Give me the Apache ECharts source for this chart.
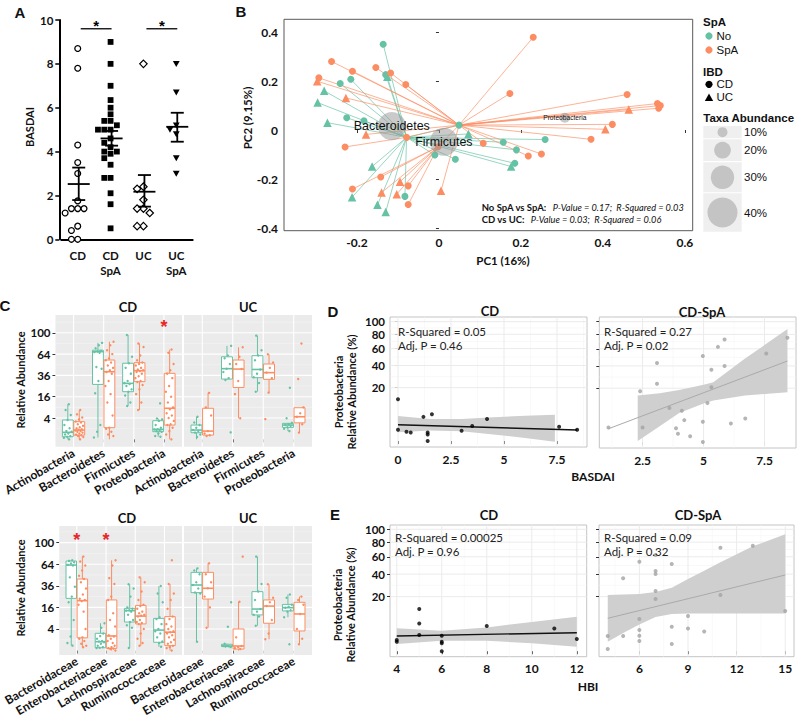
<!DOCTYPE html>
<html><head><meta charset="utf-8">
<script src="https://cdn.jsdelivr.net/npm/echarts@6/dist/echarts.min.js"></script>
<style>html,body{margin:0;padding:0;background:#fff}#c{width:800px;height:722px}</style>
</head><body><div id="c"></div>
<script>
// ================= DATA =================
// ---- Panel A: BASDAI by group ----
const aCats = ['CD', 'CD\nSpA', 'UC', 'UC\nSpA'];
const aCD = [8.7, 7.8, 4.3, 3.5, 3.0, 1.75, 1.4, 1.4, 1.4, 1.2, 0.6, 0.4, 0, 0];
const aCDSpA = [9.0, 8.0, 7.0, 6.35, 6.0, 5.7, 5.4, 5.4, 5.2, 5.0, 5.0, 5.0, 4.6, 4.4, 4.2, 4.0, 4.0, 3.9, 3.7, 3.4, 2.8, 2.8, 2.1, 1.6, 0.5];
const aUC = [8.0, 2.4, 2.3, 1.8, 1.4, 1.4, 1.2, 0.6, 0.6];
const aUCSpA = [8.0, 6.7, 5.2, 5.0, 4.8, 3.7, 3.0];
const aMean = [2.52, 4.6, 2.17, 5.13];
const aSeLow = [1.79, 4.27, 1.49, 4.45];
const aSeHigh = [3.27, 4.94, 2.93, 5.77];
const aSigPairs = [[0, 1], [2, 3]];
const aSigY = 9.6;

// ---- Panel B: PCA biplot [PC1, PC2, hub index] ----
const bHubs = [[0.049, 0.020], [-0.079, -0.030], [-0.002, -0.068]];
const bNoCD = [[-0.136,0.350,1],[-0.215,0.207,1],[-0.241,0.190,1],[-0.130,0.226,1],[-0.225,0.050,1],[-0.183,0.038,1],[0.049,0.020,1],[0.157,-0.050,1],[0.259,-0.039,1],[0.189,-0.081,1],[-0.010,-0.102,1],[0.040,-0.119,1],[0.185,-0.136,1],[-0.083,-0.271,1]];
const bNoUC = [[-0.126,0.217,1],[-0.280,0.160,1],[-0.296,0.112,1],[-0.272,0.030,1],[0.072,-0.016,1],[-0.163,-0.149,1],[0.176,-0.149,1],[-0.212,-0.274,1],[-0.150,-0.305,1],[-0.130,-0.335,1]];
const bSpACD = [[0.230,0.379,0],[-0.262,0.280,0],[-0.211,0.240,0],[-0.154,0.255,0],[-0.118,0.233,0],[-0.081,0.186,0],[-0.293,0.213,0],[0.173,0.149,0],[0.459,0.145,0],[0.533,0.108,0],[0.540,0.100,0],[0.536,0.089,0],[0.423,0.023,0],[0.371,-0.038,0],[0.250,-0.098,0],[0.218,-0.106,0],[0.108,-0.054,0],[-0.079,-0.030,0],[-0.229,-0.069,1],[-0.002,-0.068,0],[-0.142,-0.192,2],[-0.211,-0.241,2],[-0.075,-0.228,2],[-0.075,-0.304,2]];
const bSpAUC = [[-0.297,0.199,0],[-0.227,0.131,0],[-0.178,-0.018,0],[-0.095,-0.211,2],[-0.140,-0.255,2],[-0.103,-0.262,2],[0.005,-0.248,0],[0.463,0.084,0],[0.406,0.003,0]];
const bTaxa = ['Bacteroidetes', 'Firmicutes', 'Proteobacteria'];
const bTaxaPos = [[-0.115, 0.016], [0.012, -0.048], [0.307, 0.050]];
const bTaxaAbund = [37, 37, 10];
const bLegendAbund = [10, 20, 30, 40];
const bTicksX = [-0.2, 0, 0.2, 0.4, 0.6];
const bTicksY = [-0.4, -0.2, 0, 0.2, 0.4];

// ---- Panel C: relative abundance (%) ----
const cTopCats = ['Actinobacteria', 'Bacteroidetes', 'Firmicutes', 'Proteobacteria'];
const cBotCats = ['Bacteroidaceae', 'Enterobacteriaceae', 'Lachnospiraceae', 'Ruminococcaceae'];
const cTicks = [4, 16, 36, 64, 100];
// box stats: [lower whisker, Q1, median, Q3, upper whisker]
const cTopBoxCDNo = [[0,0.06,0.43,3.3,10.8],[0.03,26.6,67.7,70,82],[9.8,20,27.6,51,96],[0.06,0.52,0.88,3.06,3.8]];
const cTopBoxCDSpA = [[0,0.16,0.76,2.75,7.6],[0,1.2,40.3,55.4,84],[7.6,29.3,41.5,51.8,81],[0,1.8,8.5,38.4,71]];
const cTopBoxUCNo = [[0,0.39,0.76,1.8,4.5],[31,32,44,60,77],[20,33.5,43,61.6,94.7],[0.6,1.26,1.8,2.25,2.4]];
const cTopBoxUCSpA = [[0.1,0.16,0.6,8.5,19],[3.9,23.7,43.5,55.4,74.6],[19.2,31.7,39.2,50,63.7],[0.39,2.4,4.5,8.8,8.8]];
const cBotBoxCDNo = [[0.21,23.4,62.7,68.8,70],[0.06,0.07,0.68,2.56,6.4],[0.06,7,13.7,15.3,37.7],[0.12,0.59,3.6,8.9,35.8]];
const cBotBoxCDSpA = [[0.09,1.4,21.4,43.9,75.7],[0,0.04,1.83,22,70],[0.2,6.1,10.2,17.5,46],[0,0.21,2.9,9.9,38]];
const cBotBoxUCNo = [[0.68,28.8,36.9,52.5,58],[0.1,0.15,0.18,0.34,0.4],[5.3,10.9,14.8,29.8,75.7],[9.5,13.5,15.8,18.3,27]];
const cBotBoxUCSpA = [[4.5,22.8,33.3,52.5,65.3],[0,0.02,0.18,4,20.5],[1.1,6.4,17,22,37.7],[0.34,3.3,11.5,20,25]];
// individual samples
const cTopPtsCDNo = [
  [10.8,7.6,5.2,3.3,1.8,1.1,0.6,0.5,0.3,0.2,0.1,0.06,0.02,0],
  [82,78,73,69,68,67,66,46,44,30,18.7,1.8,0.5,0.03],
  [96,60,51,45,38,30,28,27,25,22,20,17,12,9.8],
  [11.4,3.8,3.5,3.0,1.8,1.2,0.9,0.85,0.7,0.6,0.5,0.3,0.1,0.06]];
const cTopPtsCDSpA = [
  [7.6,5.5,4.2,3.5,2.8,2.5,2,1.6,1.3,1.1,0.9,0.8,0.7,0.6,0.5,0.4,0.3,0.2,0.15,0.1,0.05,0],
  [84,78,70,64,58,55,52,48,45,42,40,38,30,25,18,12,5,1.2,1.0,0.5,0.2,0.1],
  [81,75,62,55,52,50,48,45,43,42,41,40,38,35,33,30,29,26,22,18,12,7.6],
  [71,66,50,42,38,33,25,20,16,12,9,8,6,5,4,3,2,1.8,1.2,0.6,0.2,0]];
const cTopPtsUCNo = [
  [4.5,2.5,1.8,1.2,0.76,0.6,0.4,0.2,0.05],
  [77,62,58,50,44,40,33,31,0.43],
  [94.7,70,62,55,43,38,34,28,20],
  [23.5,3.9,2.4,2.0,1.8,1.6,1.3,1.0,0.6]];
const cTopPtsUCSpA = [
  [19,9,5,0.6,0.3,0.15,0.1],
  [74.6,60,50,43.5,30,18,3.9],
  [63.7,52,45,39.2,33,19.2,3.6],
  [81,32,9,6,4.5,2,0.4]];
const cBotPtsCDNo = [
  [70,69,67,65,63,62,46,35,25,20,8,1.7,0.5,0.21],
  [6.4,4.5,3,2.5,1.8,1.2,0.8,0.7,0.6,0.4,0.2,0.1,0.07,0.06],
  [37.7,33,25,16,15,14,13.7,13,11,8,7,5.5,4.5,0.06],
  [35.8,28,20,9.5,8.5,6,4,3.2,2.5,1.5,0.7,0.5,0.3,0.12]];
const cBotPtsCDSpA = [
  [75.7,68,62,55,48,44,40,33,27,23,22,21,18,13,9,4,1.5,1.2,0.8,0.4,0.2,0.09],
  [70,62,45,38,25,22,12,8,5,3,2,1.7,1.2,0.8,0.5,0.3,0.2,0.1,0.05,0.04,0.02,0],
  [46,40,30,22,18,17,15,13,12,11,10.5,10,9,8,7,6.5,6,4,2.5,1.2,0.5,0.2],
  [70,38,28,22,15,10,8.5,6,5,4,3.2,2.9,2.5,2,1.5,1,0.6,0.4,0.2,0.1,0.05,0]];
const cBotPtsUCNo = [
  [58,55,50,40,36.9,33,29,28,0.68],
  [20,4.9,0.4,0.3,0.2,0.18,0.16,0.14,0.1],
  [75.7,38,30,22,14.8,13,11,10,5.3],
  [27,24,18,16.5,15.8,14,13,9.5,0.34]];
const cBotPtsUCSpA = [
  [65.3,50,40,33.3,25,16,4.5],
  [75.7,20.5,1.5,0.18,0.1,0.05,0.02],
  [37.7,24,20,17,8,2.5,1.1],
  [25,22,18,11.5,4,1.2,0.34]];
const cTopSig = [[4, 120]];
const cBotSig = [[1, 113], [2, 113]];

// ---- Panels D & E: Proteobacteria vs BASDAI / HBI ----
const deTicksY = [20, 40, 60, 80, 100];
const dTicksCD = [0, 2.5, 5, 7.5];
const dTicksSpA = [2.5, 5, 7.5];
const eTicksCD = [4, 6, 8, 10, 12];
const eTicksSpA = [6, 9, 12, 15];
const dCD = [[0,12.2],[0,0.9],[0.4,0.6],[0.6,0.5],[1.2,4.1],[1.4,0.5],[1.4,0.3],[1.4,0],[1.6,5.0],[3.0,0.75],[3.5,1.6],[4.2,3.4],[7.6,1.44],[8.45,0.9]];
const dSpA = [[1.1,1.44],[2.4,17.8],[2.5,1.44],[3.09,43],[3.09,23.4],[3.6,8.0],[3.87,1.3],[3.95,0.48],[4.11,6.75],[4.21,3.3],[4.45,0.23],[4.97,51],[4.97,2.8],[4.97,0],[5.16,10.5],[5.32,36],[5.32,20.7],[5.59,62.5],[5.86,72.6],[5.86,39.8],[6.12,2.35],[6.71,3.8],[7.57,54],[8.44,75]];
const eCD = [[4,0.85],[4,0.6],[5,12],[5,5.2],[5,1.77],[6,1.6],[6,0.6],[6,0.42],[6,0],[8,4.3],[11,3.5],[12,1.0]];
const eSpA = [[4.05,1.56],[4.05,0.03],[5,35.8],[5,1.56],[6,53.9],[6,7.0],[6,3.0],[6,1.6],[6,0.7],[7,62.3],[7,43.3],[7,40],[7,24.4],[7,18.3],[8,51.2],[8,4.0],[8,0.35],[9,8.3],[9,3.5],[10,2.6],[11,72],[11,21.3],[13,74.9],[15,10.9]];
// linear fits on the square-root scale: [x, fitted] and confidence band [x, lower, upper]
const dLineCD = [[0,1.37],[8.45,0.92]];
const dBandCD = [[0,0.73,2.1],[1.5,0.88,1.85],[3,0.82,1.85],[4.5,0.55,2.0],[6,0.25,2.12],[7.4,-0.06,2.2]];
const dLineSpA = [[1.1,1.1],[8.44,6.73]];
const dBandSpA = [[2.3,0.08,3.86],[3.2,1.3,4.05],[4.0,2.4,4.33],[5.0,3.2,4.75],[5.4,3.44,4.97],[6.7,3.86,6.93],[8.44,4.13,9.39]];
const eLineCD = [[4,1.25],[12,1.52]];
const eBandCD = [[4,0.59,1.88],[6,0.85,1.68],[8,0.85,1.95],[10,0.65,2.4],[12,0.37,2.83]];
const eLineSpA = [[4.05,2.7],[15,6.25]];
const eBandSpA = [[4.05,0.78,4.61],[5,1.5,4.65],[6,2.2,4.7],[7,2.8,4.85],[8,3.05,5.2],[9,3.1,5.92],[10,3.1,6.6],[11,3.1,7.3],[12,3.1,7.95],[13,3.1,8.6],[15,3.1,9.59]];

// ================= STYLE / HELPERS =================
const GREEN = '#66c2a5', ORANGE = '#fc8d62';
const FONT = 'Lato, "Open Sans", sans-serif';
const HELV = '"Liberation Sans", Arial, sans-serif';
const sq = Math.sqrt;
const bold = (size, extra) => Object.assign({fontFamily: FONT, fontWeight: 'bold', fontSize: size, color: '#111'}, extra || {});
const bubbleD = p => 3.3 + 0.67 * p;      // bubble diameter for taxa abundance
const taxaFont = p => 4.5 + 0.215 * p;

function T(x, y, text, o) {
  o = o || {};
  return {type: 'text', x: x, y: y, rotation: o.rot || 0, silent: true, z: 100,
    style: {text: text, fill: o.color || '#111', fontSize: o.size || 12,
      fontWeight: o.bold ? 'bold' : 'normal', fontStyle: o.italic ? 'italic' : 'normal',
      fontFamily: o.family || FONT, textAlign: o.align || 'center', align: o.align || 'center',
      textVerticalAlign: 'middle', verticalAlign: 'middle', lineHeight: o.lh, rich: o.rich}};
}

// ---- A: beeswarm layout (pixel space) ----
function swarm(values, cat, api, d) {
  const pts = values.map(v => api.coord([cat, v]));
  const order = values.map((v, i) => i).sort((a, b) => values[b] - values[a]);
  const placed = [], res = [];
  for (const i of order) {
    const x0 = pts[i][0], y = pts[i][1];
    const cands = [0];
    for (let m = 1; m < 8; m++) cands.push(-m * d, m * d);
    let x = x0;
    for (const off of cands) {
      x = x0 + off;
      if (placed.every(p => Math.hypot(p[0] - x, p[1] - y) >= d * 0.97)) break;
    }
    placed.push([x, y]); res[i] = [x, y];
  }
  return res;
}
function mark(shape, x, y) {
  if (shape === 'circle') return {type: 'circle', shape: {cx: x, cy: y, r: 2.9}, style: {fill: '#fff', stroke: '#000', lineWidth: 1.3}};
  if (shape === 'square') return {type: 'rect', shape: {x: x - 2.9, y: y - 2.9, width: 5.8, height: 5.8}, style: {fill: '#000'}};
  if (shape === 'diamond') return {type: 'polygon', shape: {points: [[x, y - 3.7], [x + 3.7, y], [x, y + 3.7], [x - 3.7, y]]}, style: {fill: '#fff', stroke: '#000', lineWidth: 1.2}};
  return {type: 'polygon', shape: {points: [[x - 3.4, y - 2.8], [x + 3.4, y - 2.8], [x, y + 3.2]]}, style: {fill: '#000'}};
}
function swarmSeries(values, cat, shape) {
  return {type: 'custom', xAxisIndex: 0, yAxisIndex: 0, z: 3,
    data: values.map(v => [cat, v]),
    renderItem: function (params, api) {
      const p = swarm(values, cat, api, 6.3)[params.dataIndex];
      return mark(shape, p[0], p[1]);
    }};
}

// ---- C: box + jitter ----
function jit(i, k) { return (((i + 1) * 0.6180339887 + k * 0.37) % 1) * 2 - 1; }
function boxSeries(g, boxes, pts, color, dodge) {
  return {type: 'custom', xAxisIndex: g, yAxisIndex: g, z: 3,
    data: boxes.map((b, i) => [i + 1, b[2], b[0], b[1], b[3], b[4]]),
    renderItem: function (params, api) {
      const b = boxes[params.dataIndex];
      const c = params.dataIndex + 1 + dodge, hw = 0.18;
      const P = (x, v) => api.coord([x, sq(v)]);
      const lo = P(c, b[0]), q1 = P(c, b[1]), q3 = P(c, b[3]), hi = P(c, b[4]);
      const l = P(c - hw, b[2]), r = P(c + hw, b[2]);
      const ch = [
        {type: 'line', shape: {x1: lo[0], y1: lo[1], x2: q1[0], y2: q1[1]}, style: {stroke: color, lineWidth: 1}},
        {type: 'line', shape: {x1: q3[0], y1: q3[1], x2: hi[0], y2: hi[1]}, style: {stroke: color, lineWidth: 1}},
        {type: 'rect', shape: {x: l[0], y: q3[1], width: r[0] - l[0], height: q1[1] - q3[1]}, style: {fill: '#fff', stroke: color, lineWidth: 1}},
        {type: 'line', shape: {x1: l[0], y1: l[1], x2: r[0], y2: r[1]}, style: {stroke: color, lineWidth: 1.6}}
      ];
      pts[params.dataIndex].forEach((v, j) => {
        const p = P(c + 0.14 * jit(j, params.dataIndex), v);
        ch.push({type: 'circle', shape: {cx: p[0], cy: p[1], r: 1.2}, style: {fill: color}});
      });
      return {type: 'group', children: ch};
    }};
}
function sigSeries(g, sig) {
  return {type: 'custom', xAxisIndex: g, yAxisIndex: g, z: 5,
    data: sig.map(s => [s[0], sq(s[1])]),
    renderItem: function (params, api) {
      const p = api.coord([api.value(0), api.value(1)]);
      return {type: 'text', x: p[0], y: p[1] + 4, style: {text: '*', fill: '#e8262a', fontSize: 18, fontWeight: 'bold', fontFamily: HELV, textAlign: 'center', align: 'center', textVerticalAlign: 'middle', verticalAlign: 'middle'}};
    }};
}
// background grid lines
function bgSeries(g, vx, vy, mx, my, major, minor, wMaj, wMin) {
  return {type: 'custom', xAxisIndex: g, yAxisIndex: g, z: 1, silent: true,
    data: [[vx[0], vy[0]]],
    renderItem: function (params, api) {
      const cs = params.coordSys, ch = [];
      const hl = (v, col, w) => { const y = api.coord([vx[0], v])[1]; ch.push({type: 'line', shape: {x1: cs.x, y1: y, x2: cs.x + cs.width, y2: y}, style: {stroke: col, lineWidth: w}}); };
      const vl = (v, col, w) => { const x = api.coord([v, vy[0]])[0]; ch.push({type: 'line', shape: {x1: x, y1: cs.y, x2: x, y2: cs.y + cs.height}, style: {stroke: col, lineWidth: w}}); };
      my.forEach(v => hl(v, minor, wMin)); mx.forEach(v => vl(v, minor, wMin));
      vy.forEach(v => hl(v, major, wMaj)); vx.forEach(v => vl(v, major, wMaj));
      return {type: 'group', children: ch};
    }};
}
function bandSeries(g, band) {
  return {type: 'custom', xAxisIndex: g, yAxisIndex: g, z: 2, silent: true,
    data: band.map(b => [b[0], b[1], b[2]]),
    renderItem: function (params, api) {
      if (params.dataIndex !== 0) return null;
      const up = band.map(b => api.coord([b[0], b[2]]));
      const dn = band.slice().reverse().map(b => api.coord([b[0], b[1]]));
      return {type: 'polygon', shape: {points: up.concat(dn)}, style: {fill: '#cfcfcf'}};
    }};
}
function fitLine(g, line, color, w) {
  return {type: 'line', xAxisIndex: g, yAxisIndex: g, z: 3, data: line, showSymbol: false, silent: true,
    lineStyle: {color: color, width: w}};
}
function pts(g, data, color) {
  return {type: 'scatter', xAxisIndex: g, yAxisIndex: g, z: 4, symbolSize: 4, silent: true,
    data: data.map(d => [d[0], sq(d[1])]), itemStyle: {color: color}};
}
// B spider lines
function spider(data, color) {
  return {type: 'custom', xAxisIndex: 1, yAxisIndex: 1, z: 2, silent: true,
    data: data.map(d => [d[0], d[1], d[2]]),
    renderItem: function (params, api) {
      const p = api.coord([api.value(0), api.value(1)]);
      const h = api.coord(bHubs[api.value(2)]);
      return {type: 'line', shape: {x1: p[0], y1: p[1], x2: h[0], y2: h[1]}, style: {stroke: color, lineWidth: 0.9, opacity: 0.75}};
    }};
}
function bScatter(data, color, symbol, size) {
  return {type: 'scatter', xAxisIndex: 1, yAxisIndex: 1, z: 3, silent: true, symbol: symbol, symbolSize: size,
    data: data.map(d => [d[0], d[1]]), itemStyle: {color: color, opacity: 1}};
}

// ---- axes ----
function cX(g, cats) {
  return {type: 'value', gridIndex: g, min: 0.4, max: 4.6, axisLine: {show: false}, splitLine: {show: false},
    axisTick: {show: true, customValues: [1, 2, 3, 4], length: 3, lineStyle: {color: '#333'}},
    axisLabel: Object.assign({customValues: [1, 2, 3, 4], formatter: v => cats[Math.round(v) - 1], rotate: 30, margin: 5}, bold(12))};
}
function cY(g, min, max, show) {
  return {type: 'value', gridIndex: g, min: min, max: max, axisLine: {show: false}, splitLine: {show: false},
    axisTick: {show: show, customValues: cTicks.map(sq), length: 3, lineStyle: {color: '#333'}},
    axisLabel: Object.assign({show: show, customValues: cTicks.map(sq), formatter: v => String(Math.round(v * v)), margin: 5}, bold(11.5))};
}
function deX(g, min, max, ticks) {
  return {type: 'value', gridIndex: g, min: min, max: max, axisLine: {show: false}, splitLine: {show: false},
    axisTick: {show: true, customValues: ticks, length: 3, lineStyle: {color: '#333'}},
    axisLabel: Object.assign({customValues: ticks, formatter: v => String(v), margin: 6}, bold(12))};
}
function deY(g, min, max, show) {
  return {type: 'value', gridIndex: g, min: min, max: max, axisLine: {show: false}, splitLine: {show: false},
    axisTick: {show: true, customValues: deTicksY.map(sq), length: 3, lineStyle: {color: '#333'}},
    axisLabel: Object.assign({show: show, customValues: deTicksY.map(sq), formatter: v => String(Math.round(v * v)), margin: 5, lineHeight: 11}, bold(11.5))};
}
const mid = a => a.slice(1).map((v, i) => (v + a[i]) / 2);

const cGrid = {show: true, backgroundColor: '#ebebeb', borderWidth: 0};
const dGrid = {show: true, backgroundColor: '#fff', borderColor: '#c4c4c4', borderWidth: 1};
const grids = [
  {left: 61.3, top: 20, width: 131.4, height: 219.3},
  {left: 284, top: 19.3, width: 408.7, height: 211.4, show: true, backgroundColor: '#fff', borderColor: '#595959', borderWidth: 1},
  Object.assign({left: 54, top: 315, width: 128, height: 131.7}, cGrid),
  Object.assign({left: 184, top: 315, width: 128, height: 131.7}, cGrid),
  Object.assign({left: 54, top: 526, width: 128, height: 129}, cGrid),
  Object.assign({left: 184, top: 526, width: 128, height: 129}, cGrid),
  Object.assign({left: 390, top: 317, width: 197, height: 130}, dGrid),
  Object.assign({left: 599.3, top: 317, width: 196.7, height: 131}, dGrid),
  Object.assign({left: 390, top: 525, width: 196.7, height: 131.7}, dGrid),
  Object.assign({left: 599, top: 525, width: 195, height: 131.7}, dGrid)
];

const xAxes = [
  {type: 'category', gridIndex: 0, data: aCats, boundaryGap: true,
    axisLine: {lineStyle: {color: '#000', width: 2}},
    axisTick: {alignWithLabel: true, length: 4, lineStyle: {color: '#000', width: 1.5}},
    axisLabel: Object.assign({margin: 9, lineHeight: 15}, bold(11.5))},
  {type: 'value', gridIndex: 1, min: -0.378, max: 0.619, axisLine: {show: false}, splitLine: {show: false},
    axisTick: {show: true, customValues: bTicksX, length: 3, lineStyle: {color: '#333'}},
    axisLabel: Object.assign({customValues: bTicksX, formatter: v => (Math.abs(v) < 1e-9 ? '0' : v.toFixed(1)), margin: 6}, bold(12))},
  cX(2, cTopCats), cX(3, cTopCats), cX(4, cBotCats), cX(5, cBotCats),
  deX(6, -0.377, 8.915, dTicksCD), deX(7, 0.725, 8.79, dTicksSpA),
  deX(8, 3.70, 12.44, eTicksCD), deX(9, 3.51, 15.54, eTicksSpA)
];
const yAxes = [
  {type: 'value', gridIndex: 0, min: 0, max: 10, interval: 2, offset: 2,
    axisLine: {show: true, lineStyle: {color: '#000', width: 2}},
    axisTick: {show: true, length: 4, lineStyle: {color: '#000', width: 1.5}}, splitLine: {show: false},
    axisLabel: Object.assign({margin: 6}, bold(11.5))},
  {type: 'value', gridIndex: 1, min: -0.411, max: 0.452, axisLine: {show: false}, splitLine: {show: false},
    axisTick: {show: true, customValues: bTicksY, length: 3, lineStyle: {color: '#333'}},
    axisLabel: Object.assign({customValues: bTicksY, formatter: v => (Math.abs(v) < 1e-9 ? '0' : v.toFixed(1)), margin: 6}, bold(12))},
  cY(2, -0.69, 11.67, true), cY(3, -0.69, 11.67, false), cY(4, -0.41, 11.54, true), cY(5, -0.41, 11.54, false),
  deY(6, -0.5, 10.39, true), deY(7, -0.5, 10.39, false), deY(8, -0.45, 10.35, true), deY(9, -0.45, 10.35, false)
];

// ================= SERIES =================
const series = [];
// A
series.push(swarmSeries(aCD, 0, 'circle'), swarmSeries(aCDSpA, 1, 'square'), swarmSeries(aUC, 2, 'diamond'), swarmSeries(aUCSpA, 3, 'tri'));
series.push({type: 'custom', xAxisIndex: 0, yAxisIndex: 0, z: 4,
  data: aMean.map((m, i) => [i, m, aSeLow[i], aSeHigh[i]]),
  renderItem: function (params, api) {
    const i = params.dataIndex;
    const m = api.coord([i, aMean[i]]), lo = api.coord([i, aSeLow[i]]), hi = api.coord([i, aSeHigh[i]]);
    const x = m[0] + 1, st = {stroke: '#000', lineWidth: 1.8};
    return {type: 'group', children: [
      {type: 'line', shape: {x1: x - 11, y1: m[1], x2: x + 11, y2: m[1]}, style: st},
      {type: 'line', shape: {x1: x, y1: lo[1], x2: x, y2: hi[1]}, style: st},
      {type: 'line', shape: {x1: x - 6.5, y1: lo[1], x2: x + 6.5, y2: lo[1]}, style: st},
      {type: 'line', shape: {x1: x - 6.5, y1: hi[1], x2: x + 6.5, y2: hi[1]}, style: st}]};
  }});
series.push({type: 'custom', xAxisIndex: 0, yAxisIndex: 0, z: 4,
  data: aSigPairs.map(p => [p[0], aSigY]),
  renderItem: function (params, api) {
    const pr = aSigPairs[params.dataIndex];
    const a = api.coord([pr[0], aSigY]), b = api.coord([pr[1], aSigY]);
    return {type: 'group', children: [
      {type: 'line', shape: {x1: a[0] + 3, y1: a[1], x2: b[0] + 1, y2: b[1]}, style: {stroke: '#000', lineWidth: 1.3}},
      {type: 'text', x: (a[0] + b[0]) / 2 + 2, y: a[1] - 3, style: {text: '*', fill: '#000', fontSize: 15, fontWeight: 'bold', fontFamily: HELV, textAlign: 'center', align: 'center', textVerticalAlign: 'middle', verticalAlign: 'middle'}}]};
  }});
// B
series.push(spider(bNoCD, GREEN), spider(bNoUC, GREEN), spider(bSpACD, ORANGE), spider(bSpAUC, ORANGE));
series.push(bScatter(bNoCD, GREEN, 'circle', 7), bScatter(bNoUC, GREEN, 'triangle', 8.5),
            bScatter(bSpACD, ORANGE, 'circle', 7), bScatter(bSpAUC, ORANGE, 'triangle', 8.5));
series.push({type: 'custom', xAxisIndex: 1, yAxisIndex: 1, z: 5, silent: true,
  data: bTaxaPos.map((p, i) => [p[0], p[1], bTaxaAbund[i]]),
  renderItem: function (params, api) {
    const i = params.dataIndex, p = api.coord(bTaxaPos[i]);
    return {type: 'group', children: [
      {type: 'circle', shape: {cx: p[0], cy: p[1], r: bubbleD(bTaxaAbund[i]) / 2}, style: {fill: 'rgba(150,150,150,0.5)'}},
      {type: 'text', x: p[0], y: p[1], style: {text: bTaxa[i], fill: '#111', fontSize: taxaFont(bTaxaAbund[i]), fontFamily: HELV, textAlign: 'center', align: 'center', textVerticalAlign: 'middle', verticalAlign: 'middle'}}]};
  }});
// C
const cxMaj = [1, 2, 3, 4];
const cyMaj = cTicks.map(sq), cyMin = [1, 3, 5, 7, 9, 11];
[2, 3, 4, 5].forEach(g => series.push(bgSeries(g, cxMaj, cyMaj, [], cyMin, '#ffffff', '#f7f7f7', 1.1, 0.5)));
series.push(boxSeries(2, cTopBoxCDNo, cTopPtsCDNo, GREEN, -0.19), boxSeries(2, cTopBoxCDSpA, cTopPtsCDSpA, ORANGE, 0.19),
            boxSeries(3, cTopBoxUCNo, cTopPtsUCNo, GREEN, -0.19), boxSeries(3, cTopBoxUCSpA, cTopPtsUCSpA, ORANGE, 0.19),
            boxSeries(4, cBotBoxCDNo, cBotPtsCDNo, GREEN, -0.19), boxSeries(4, cBotBoxCDSpA, cBotPtsCDSpA, ORANGE, 0.19),
            boxSeries(5, cBotBoxUCNo, cBotPtsUCNo, GREEN, -0.19), boxSeries(5, cBotBoxUCSpA, cBotPtsUCSpA, ORANGE, 0.19));
series.push(sigSeries(2, cTopSig), sigSeries(4, cBotSig));
// D / E
const yMaj = deTicksY.map(sq), yMin = mid(yMaj);
series.push(bgSeries(6, dTicksCD, yMaj, mid(dTicksCD).concat([8.75]), yMin, '#ebebeb', '#f5f5f5', 1, 0.6));
series.push(bgSeries(7, dTicksSpA, yMaj, mid(dTicksSpA).concat([1.25]), yMin, '#ebebeb', '#f5f5f5', 1, 0.6));
series.push(bgSeries(8, eTicksCD, yMaj, mid(eTicksCD), yMin, '#ebebeb', '#f5f5f5', 1, 0.6));
series.push(bgSeries(9, eTicksSpA, yMaj, mid(eTicksSpA).concat([4.5]), yMin, '#ebebeb', '#f5f5f5', 1, 0.6));
series.push(bandSeries(6, dBandCD), bandSeries(7, dBandSpA), bandSeries(8, eBandCD), bandSeries(9, eBandSpA));
series.push(fitLine(6, dLineCD, '#111', 1.4), fitLine(7, dLineSpA, '#aaaaaa', 1), fitLine(8, eLineCD, '#111', 1.4), fitLine(9, eLineSpA, '#aaaaaa', 1));
series.push(pts(6, dCD, '#000'), pts(7, dSpA, '#a3a3a3'), pts(8, eCD, '#000'), pts(9, eSpA, '#a3a3a3'));

// ================= GRAPHIC TEXT =================
const G = [];
// panel letters
[['A', 20, 12], ['B', 241, 11], ['C', 5, 305], ['D', 333, 311], ['E', 335, 514]].forEach(l => G.push(T(l[1], l[2], l[0], {bold: true, size: 15, family: HELV})));
// A
G.push(T(29, 127, 'BASDAI', {bold: true, size: 11, rot: Math.PI / 2}));
// B
G.push(T(503, 260, 'PC1 (16%)', {bold: true, size: 11.5}));
G.push(T(247, 118, 'PC2 (9.15%)', {bold: true, size: 11.5, rot: Math.PI / 2}));
const rich = {b: {fontFamily: FONT, fontWeight: 'bold', fontSize: 9.5, fill: '#111', color: '#111'},
              i: {fontFamily: FONT, fontStyle: 'italic', fontSize: 9.2, fill: '#111', color: '#111'}};
G.push(T(481.7, 207.7, '{b|No SpA vs SpA:}  {i|P-Value = 0.17;  R-Squared = 0.03}', {align: 'left', rich: rich}));
G.push(T(481.7, 219.9, '{b|CD vs UC:}  {i|P-Value = 0.03;  R-Squared = 0.06}', {align: 'left', rich: rich}));
// B legend
G.push(T(703, 22.3, 'SpA', {bold: true, size: 11.5, family: HELV, align: 'left'}));
G.push({type: 'circle', shape: {cx: 709, cy: 36, r: 3.6}, style: {fill: GREEN}, silent: true});
G.push(T(716.5, 36, 'No', {size: 11.5, family: HELV, align: 'left'}));
G.push({type: 'circle', shape: {cx: 709, cy: 50, r: 3.6}, style: {fill: ORANGE}, silent: true});
G.push(T(716.5, 50, 'SpA', {size: 11.5, family: HELV, align: 'left'}));
G.push(T(703, 71.7, 'IBD', {bold: true, size: 11.5, family: HELV, align: 'left'}));
G.push({type: 'circle', shape: {cx: 709, cy: 84.3, r: 3.6}, style: {fill: '#000'}, silent: true});
G.push(T(716.5, 84.3, 'CD', {size: 11.5, family: HELV, align: 'left'}));
G.push({type: 'polygon', shape: {points: [[704.8, 101], [713.2, 101], [709, 93.5]]}, style: {fill: '#000'}, silent: true});
G.push(T(716.5, 97.3, 'UC', {size: 11.5, family: HELV, align: 'left'}));
G.push(T(703.3, 118.3, 'Taxa Abundance', {bold: true, size: 11.5, family: HELV, align: 'left'}));
const keyRows = [[126, 138.3], [139.3, 161], [162.3, 192.3], [193.3, 231.7]];
bLegendAbund.forEach((p, i) => {
  const r = keyRows[i], cy = (r[0] + r[1]) / 2;
  G.push({type: 'rect', shape: {x: 703.3, y: r[0], width: 38.4, height: r[1] - r[0]}, style: {fill: '#efefef'}, silent: true});
  G.push({type: 'circle', shape: {cx: 722.5, cy: cy, r: bubbleD(p) / 2}, style: {fill: '#c4c4c4'}, silent: true});
  G.push(T(744, cy, p + '%', {size: 11.5, family: HELV, align: 'left'}));
});
// C
G.push(T(128, 307, 'CD', {bold: true, size: 13}), T(248, 307, 'UC', {bold: true, size: 13}));
G.push(T(127, 518, 'CD', {bold: true, size: 13}), T(248, 518, 'UC', {bold: true, size: 13}));
G.push(T(20, 380, 'Relative Abundance', {bold: true, size: 11, rot: Math.PI / 2}));
G.push(T(20, 588, 'Relative Abundance', {bold: true, size: 11, rot: Math.PI / 2}));
// D
G.push(T(490, 311, 'CD', {bold: true, size: 13}), T(702, 312, 'CD-SpA', {bold: true, size: 13}));
G.push(T(345, 392, 'Proteobacteria\nRelative Abundance (%)', {bold: true, size: 11, rot: Math.PI / 2, lh: 13}));
G.push(T(593, 476, 'BASDAI', {bold: true, size: 12}));
G.push(T(398, 331.7, 'R-Squared = 0.05', {size: 11.5, align: 'left', color: '#222'}), T(398, 345, 'Adj. P = 0.46', {size: 11.5, align: 'left', color: '#222'}));
G.push(T(604, 331.7, 'R-Squared = 0.27', {size: 11.5, align: 'left', color: '#222'}), T(604, 345.3, 'Adj. P = 0.02', {size: 11.5, align: 'left', color: '#222'}));
// E
G.push(T(489, 515, 'CD', {bold: true, size: 13}), T(698, 515, 'CD-SpA', {bold: true, size: 13}));
G.push(T(344, 605, 'Proteobacteria\nRelative Abundance (%)', {bold: true, size: 11, rot: Math.PI / 2, lh: 13}));
G.push(T(588, 686, 'HBI', {bold: true, size: 12}));
G.push(T(395, 537.7, 'R-Squared = 0.00025', {size: 11.5, align: 'left', color: '#222'}), T(395, 551.7, 'Adj. P = 0.96', {size: 11.5, align: 'left', color: '#222'}));
G.push(T(604, 537.7, 'R-Squared = 0.09', {size: 11.5, align: 'left', color: '#222'}), T(604, 551.7, 'Adj. P = 0.32', {size: 11.5, align: 'left', color: '#222'}));

const chart = echarts.init(document.getElementById('c'), null, {renderer: 'svg', width: 800, height: 722});
chart.setOption({
  animation: false,
  backgroundColor: '#fff',
  textStyle: {fontFamily: FONT},
  grid: grids, xAxis: xAxes, yAxis: yAxes, series: series,
  graphic: {elements: G}
});
</script></body></html>
